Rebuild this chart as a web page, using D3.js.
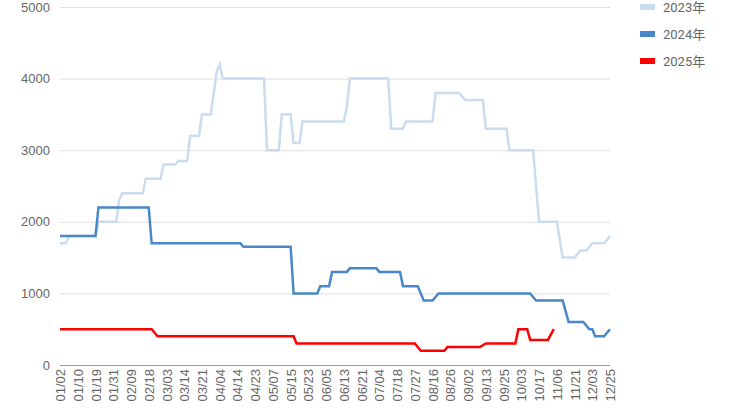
<!DOCTYPE html>
<html lang="en">
<head>
<meta charset="UTF-8">
<script src="https://d3js.org/d3.v7.min.js"></script>
<style>
  body { margin: 0; background: #fff; font-family: Roboto, "Noto Sans CJK SC", sans-serif; }
  .tick text { fill: #666; font-size: 13px; }
</style>
</head>
<body>
<svg id="chart" width="730" height="410"></svg>
<script>
const dateLabels = ["01/02","01/10","01/19","01/31","02/09","02/18","03/03","03/14","03/21","04/04","04/14","04/23",
  "05/07","05/15","05/23","06/05","06/13","06/21","07/04","07/18","07/27","08/16","08/26","09/02","09/13","09/25",
  "10/03","10/17","11/06","11/21","12/03","12/25"];
const labelStep = 6;
const pointCount = 187;
const yTicks = [0, 1000, 2000, 3000, 4000, 5000];

// runs: [startIndex, endIndex, price]
const runs2023 = [[0,2,1700],[3,12,1800],[13,19,2000],[20,20,2300],[21,28,2400],[29,34,2600],[35,39,2800],[40,43,2850],
  [44,47,3200],[48,51,3500],[53,53,4100],[54,54,4200],[55,69,4000],[70,74,3000],[75,78,3500],[79,81,3100],[82,96,3400],
  [97,97,3600],[98,111,4000],[112,116,3300],[117,126,3400],[127,135,3800],[137,143,3700],[144,151,3300],[152,160,3000],
  [162,168,2000],[170,174,1500],[176,178,1600],[180,184,1700],[186,186,1800]];
const runs2024 = [[0,12,1800],[13,30,2200],[31,61,1700],[62,78,1650],[79,87,1000],[88,91,1100],[92,97,1300],[98,107,1350],
  [108,115,1300],[116,121,1100],[123,126,900],[128,159,1000],[161,170,900],[172,177,600],[179,180,500],[181,184,400],[186,186,500]];
const runs2025 = [[0,31,500],[33,79,400],[80,120,300],[122,130,200],[131,142,250],[144,154,300],[155,158,500],[159,165,350],[167,167,500]];

const seriesNames = ["2023年", "2024年", "2025年"];
const seriesColors = ["#cadcf0", "#4a87c8", "#ff0000"];
const seriesRuns = [runs2023, runs2024, runs2025];

const svg = d3.select("#chart");
const margin = {left: 60, right: 120, top: 7, bottom: 45};
const x = d3.scaleLinear().domain([0, pointCount - 1]).range([margin.left, 730 - margin.right]);
const y = d3.scaleLinear().domain([0, 5000]).range([410 - margin.bottom, margin.top]);

svg.append("g")
  .attr("transform", `translate(${margin.left},0)`)
  .call(d3.axisLeft(y).tickValues(yTicks).tickSize(-(x.range()[1] - margin.left)).tickPadding(10).tickFormat(d3.format("d")))
  .call(g => g.select(".domain").remove())
  .call(g => g.selectAll(".tick line").attr("stroke", d => d === 0 ? "#999" : "#e0e0e0"));

svg.append("g")
  .attr("transform", `translate(0,${y(0)})`)
  .call(d3.axisBottom(x).tickValues(dateLabels.map((d, i) => i * labelStep)).tickSize(0).tickFormat((d, i) => dateLabels[i]))
  .call(g => g.select(".domain").remove())
  .selectAll("text")
  .attr("transform", "rotate(-90)")
  .attr("text-anchor", "end")
  .attr("dx", "-4px")
  .attr("dy", "0.35em")
  .attr("y", 0);

const line = d3.line().x(d => x(d[0])).y(d => y(d[1]));

seriesRuns.forEach((runs, k) => {
  const pts = [];
  runs.forEach(r => { pts.push([r[0], r[2]]); if (r[1] !== r[0]) pts.push([r[1], r[2]]); });
  svg.append("path")
    .datum(pts)
    .attr("fill", "none")
    .attr("stroke", seriesColors[k])
    .attr("stroke-width", 2.5)
    .attr("d", line);
});

const legend = svg.append("g").attr("transform", "translate(640,7)");
seriesNames.forEach((name, k) => {
  const g = legend.append("g").attr("transform", `translate(0,${k * 27})`);
  g.append("rect").attr("x", 0).attr("y", -3).attr("width", 15).attr("height", 6).attr("fill", seriesColors[k]);
  g.append("text").attr("x", 23).attr("y", 0).attr("dy", "0.35em")
    .attr("fill", "#666").attr("font-size", 13).text(name);
});
</script>
</body>
</html>
